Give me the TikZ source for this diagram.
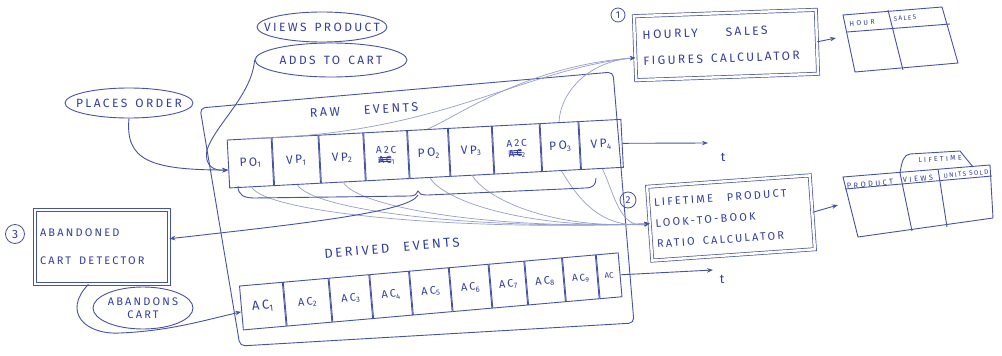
\documentclass[tikz,border=0pt]{standalone}
\usepackage{fontspec}
\setmainfont{Fira Sans}
\newfontfamily\hand[LetterSpace=20]{Fira Sans}
\newfontfamily\handx[LetterSpace=32]{Fira Sans}
\usetikzlibrary{arrows.meta,shapes.geometric}
\definecolor{ink}{RGB}{72,82,165}
\definecolor{inkt}{RGB}{50,62,158}
\definecolor{faint}{RGB}{150,158,205}
\newcommand\lo[1]{\textsubscript{#1}}
\newcommand\hsz[1]{\fontsize{#1}{#1}\selectfont}
\newcommand\wsp{\hspace{8pt}}
\newcommand\struck[1]{\rlap{#1}\rlap{\raisebox{1.5pt}{\rule{13pt}{1pt}}}\rlap{\raisebox{3.5pt}{\rule{13pt}{1pt}}}\raisebox{5.5pt}{\rule{13pt}{1pt}}}
\tikzset{
  every node/.style={text=inkt},
  ln/.style={draw=ink, line width=0.9pt},
  arr/.style={ln, -{Stealth[length=6pt,width=4.5pt]}},
  farr/.style={draw=faint, line width=0.7pt, -{Stealth[length=5pt,width=4pt,color=ink]}},
  cell/.style={draw=ink, line width=0.9pt, minimum height=48, inner sep=0pt, anchor=west, align=center, font=\hand\hsz{12}},
  dcell/.style={cell, minimum height=44, font=\hand\hsz{11}},
  bubble/.style={ellipse, draw=ink, line width=0.9pt, inner xsep=-12pt, inner ysep=0pt, font=\hand\hsz{12}},
  calcbox/.style={draw=ink, double=white, double distance=2.5pt, line width=0.7pt, inner ysep=3pt, align=left},
  num/.style={circle, draw=ink, line width=0.8pt, inner sep=0pt, font=\hand\hsz{10}},
  lbl/.style={font=\hand\hsz{12.5}},
  hdr/.style={font=\handx\hsz{7}, inner sep=0pt},
}
\begin{document}
\begin{tikzpicture}[x=1pt,y=-1pt]
\fill[white] (0,0) rectangle (1002,356);
\useasboundingbox (0,0) rectangle (1002,356);

% outer box (raw + derived events)
\draw[ln, rounded corners=5] (200,108) -- (613,72) -- (634,323) -- (240,346) -- cycle;

% raw events strip
\begin{scope}[shift={(228,164)}, rotate=3, every node/.append style={transform shape}]
\node[cell, minimum width=44] (po1) at (0,0) {PO\lo{1}};
\node[cell, minimum width=46] (vp1) at (po1.east) {VP\lo{1}};
\node[cell, minimum width=44] (vp2) at (vp1.east) {VP\lo{2}};
\node[cell, minimum width=43, font=\hand\hsz{10}] (ac1r) at (vp2.east) {A2C\\\struck{AC}\lo{1}};
\node[cell, minimum width=40] (po2) at (ac1r.east) {PO\lo{2}};
\node[cell, minimum width=43] (vp3) at (po2.east) {VP\lo{3}};
\node[cell, minimum width=47, font=\hand\hsz{10}] (ac2r) at (vp3.east) {A2C\\\struck{AC}\lo{2}};
\node[cell, minimum width=38] (po3) at (ac2r.east) {PO\lo{3}};
\node[cell, minimum width=42] (vp4) at (po3.east) {VP\lo{4}};
\end{scope}

% derived events strip
\begin{scope}[shift={(241,308)}, rotate=5, every node/.append style={transform shape}]
\node[dcell, minimum width=43, font=\hand\hsz{13}] (ac1) at (0,0) {AC\lo{1}};
\node[dcell, minimum width=45] (ac2) at (ac1.east) {AC\lo{2}};
\node[dcell, minimum width=40] (ac3) at (ac2.east) {AC\lo{3}};
\node[dcell, minimum width=39] (ac4) at (ac3.east) {AC\lo{4}};
\node[dcell, minimum width=39] (ac5) at (ac4.east) {AC\lo{5}};
\node[dcell, minimum width=39] (ac6) at (ac5.east) {AC\lo{6}};
\node[dcell, minimum width=35] (ac7) at (ac6.east) {AC\lo{7}};
\node[dcell, minimum width=37] (ac8) at (ac7.east) {AC\lo{8}};
\node[dcell, minimum width=33, font=\hand\hsz{10}] (ac9) at (ac8.east) {AC\lo{9}};
\node[dcell, minimum width=22, font=\hsz{8}] (ac10) at (ac9.east) {AC};
\end{scope}

% labels
\node[lbl, rotate=3] (rawlbl) at (364,110) {RAW\hspace{24pt}EVENTS};
\node[lbl, font=\hand\hsz{13}, rotate=5] (derlbl) at (392,248) {DERIVED\hspace{14pt}EVENTS};

% event bubbles
\node[bubble, minimum width=130, minimum height=30] (views) at (322,27) {VIEWS\wsp PRODUCT};
\node[bubble, minimum width=152, minimum height=34] (adds) at (331,60) {ADDS\wsp TO\wsp CART};
\node[bubble, minimum width=128, minimum height=30] (places) at (129,103) {PLACES\wsp ORDER};
\node[bubble, minimum width=100, minimum height=42, align=center, font=\hand\hsz{11}] (aband) at (143,308) {ABANDONS\\[2pt]CART};

% processors
\node[calcbox, rotate=2, inner xsep=8pt, text width=166, minimum height=64, font=\hand\hsz{12}] (calc1) at (726,45) {\mbox{HOURLY\hspace{28pt}SALES}\\[14pt]\mbox{FIGURES\wsp CALCULATOR}};
\node[calcbox, rotate=4, inner xsep=6pt, text width=151, minimum height=74, font=\hand\hsz{11}] (calc2) at (731,218) {\mbox{LIFETIME\hspace{14pt}PRODUCT}\\[10pt]\mbox{LOOK-TO-BOOK}\\[10pt]\mbox{RATIO\wsp CALCULATOR}};
\node[calcbox, inner xsep=5pt, text width=124, minimum height=74, font=\hand\hsz{11}] (det) at (102,247) {\mbox{ABANDONED}\\[17pt]\mbox{CART\wsp DETECTOR}};

\node[num, minimum size=14] (n1) at (618,15) {1};
\node[num, minimum size=16] (n2) at (628,200) {2};
\node[num, minimum size=19, font=\hand\hsz{12}] (n3) at (15,234) {3};

% inputs to raw events
\draw[arr] (places.south) .. controls (125,160) and (150,170) .. (po1.195);
\draw[arr] (adds.west) .. controls (252,95) and (215,125) .. (207,150) .. controls (204,166) and (214,171) .. (po1.195);

% raw events to calculator 1
\draw[farr] (po1.north) .. controls (440,135) and (520,70) .. (calc1.186);
\draw[farr] (po2.north) .. controls (455,118) and (525,66) .. (calc1.186);
\draw[farr] (po3.north) .. controls (560,95) and (585,62) .. (calc1.186);

% raw events to calculator 2
\draw[farr] (po1.south) .. controls +(15,25) and (450,231) .. (calc2.west);
\draw[farr] (vp1.south) .. controls +(15,25) and (470,230) .. (calc2.west);
\draw[farr] (vp2.south) .. controls +(15,25) and (492,230) .. (calc2.west);
\draw[farr] (po2.south) .. controls +(15,25) and (535,230) .. (calc2.west);
\draw[farr] (vp3.south) .. controls +(15,25) and (556,230) .. (calc2.west);
\draw[farr] (po3.south) .. controls +(15,25) and (600,230) .. (calc2.west);
\draw[farr] (vp4.south) .. controls +(12,25) and (620,230) .. (calc2.west);

% brace under raw events and link to detector
\draw[ln] (238,186) .. controls (238,195) and (244,198) .. (254,198) -- (410,196)
  .. controls (415,196) and (417,194) .. (418,191) .. controls (419,194) and (421,195) .. (428,195)
  -- (585,188) .. controls (593,188) and (596,185) .. (596,178);
\coordinate (cusp) at (418,195);
\draw[arr] (cusp) .. controls (410,212) and (300,224) .. (det.7);

% detector -> abandons cart -> derived events
\draw[arr] (det.250) .. controls (62,312) and (85,335) .. (120,333) .. controls (170,331) and (205,320) .. (ac1.190);

% time arrows
\coordinate (t1) at (708,143);
\draw[arr] (vp4.east) -- (t1);
\node[lbl] (tl1) at (723,157) {t};
\coordinate (t2) at (713,270);
\draw[arr] (ac10.east) -- (t2);
\node[lbl] (tl2) at (722,279) {t};

% outputs to tables
\coordinate (tab1in) at (836,38);
\draw[arr] (calc1.east) -- (tab1in);
\coordinate (tab2in) at (838,205);
\draw[arr] (calc2.east) -- (tab2in);

% table 1
\draw[ln] (843,15) -- (942,7) -- (958,63) -- (855,72) -- cycle;
\draw[ln] (847,32) -- (950,24);
\draw[ln] (888,10) -- (903,70);
\node[hdr, rotate=4] (hhour) at (862,23) {HOUR};
\node[hdr, font=\hand\hsz{6.5}, rotate=4] (hsales) at (905,18) {SALES};

% table 2
\draw[ln] (843,177) -- (990,165) -- (993,218) -- (858,237) -- cycle;
\draw[ln] (845,189) -- (992,176);
\draw[ln] (900,173) -- (912,231);
\draw[ln] (938,169) -- (947,227);
\draw[ln] (900,173) .. controls (902,160) and (904,155) .. (910,154) -- (960,151) -- (973,167);
\node[hdr, rotate=3] (hlife) at (940,159) {LIFETIME};
\node[hdr, font=\handx\hsz{7.5}, rotate=5] (hprod) at (870,184) {PRODUCT};
\node[hdr, font=\handx\hsz{7.5}, rotate=5] (hviews) at (918,179) {VIEWS};
\node[hdr, font=\hand\hsz{6.5}, rotate=5] (hunits) at (966,174) {UNITS\hspace{3pt}SOLD};
\end{tikzpicture}
\end{document}
